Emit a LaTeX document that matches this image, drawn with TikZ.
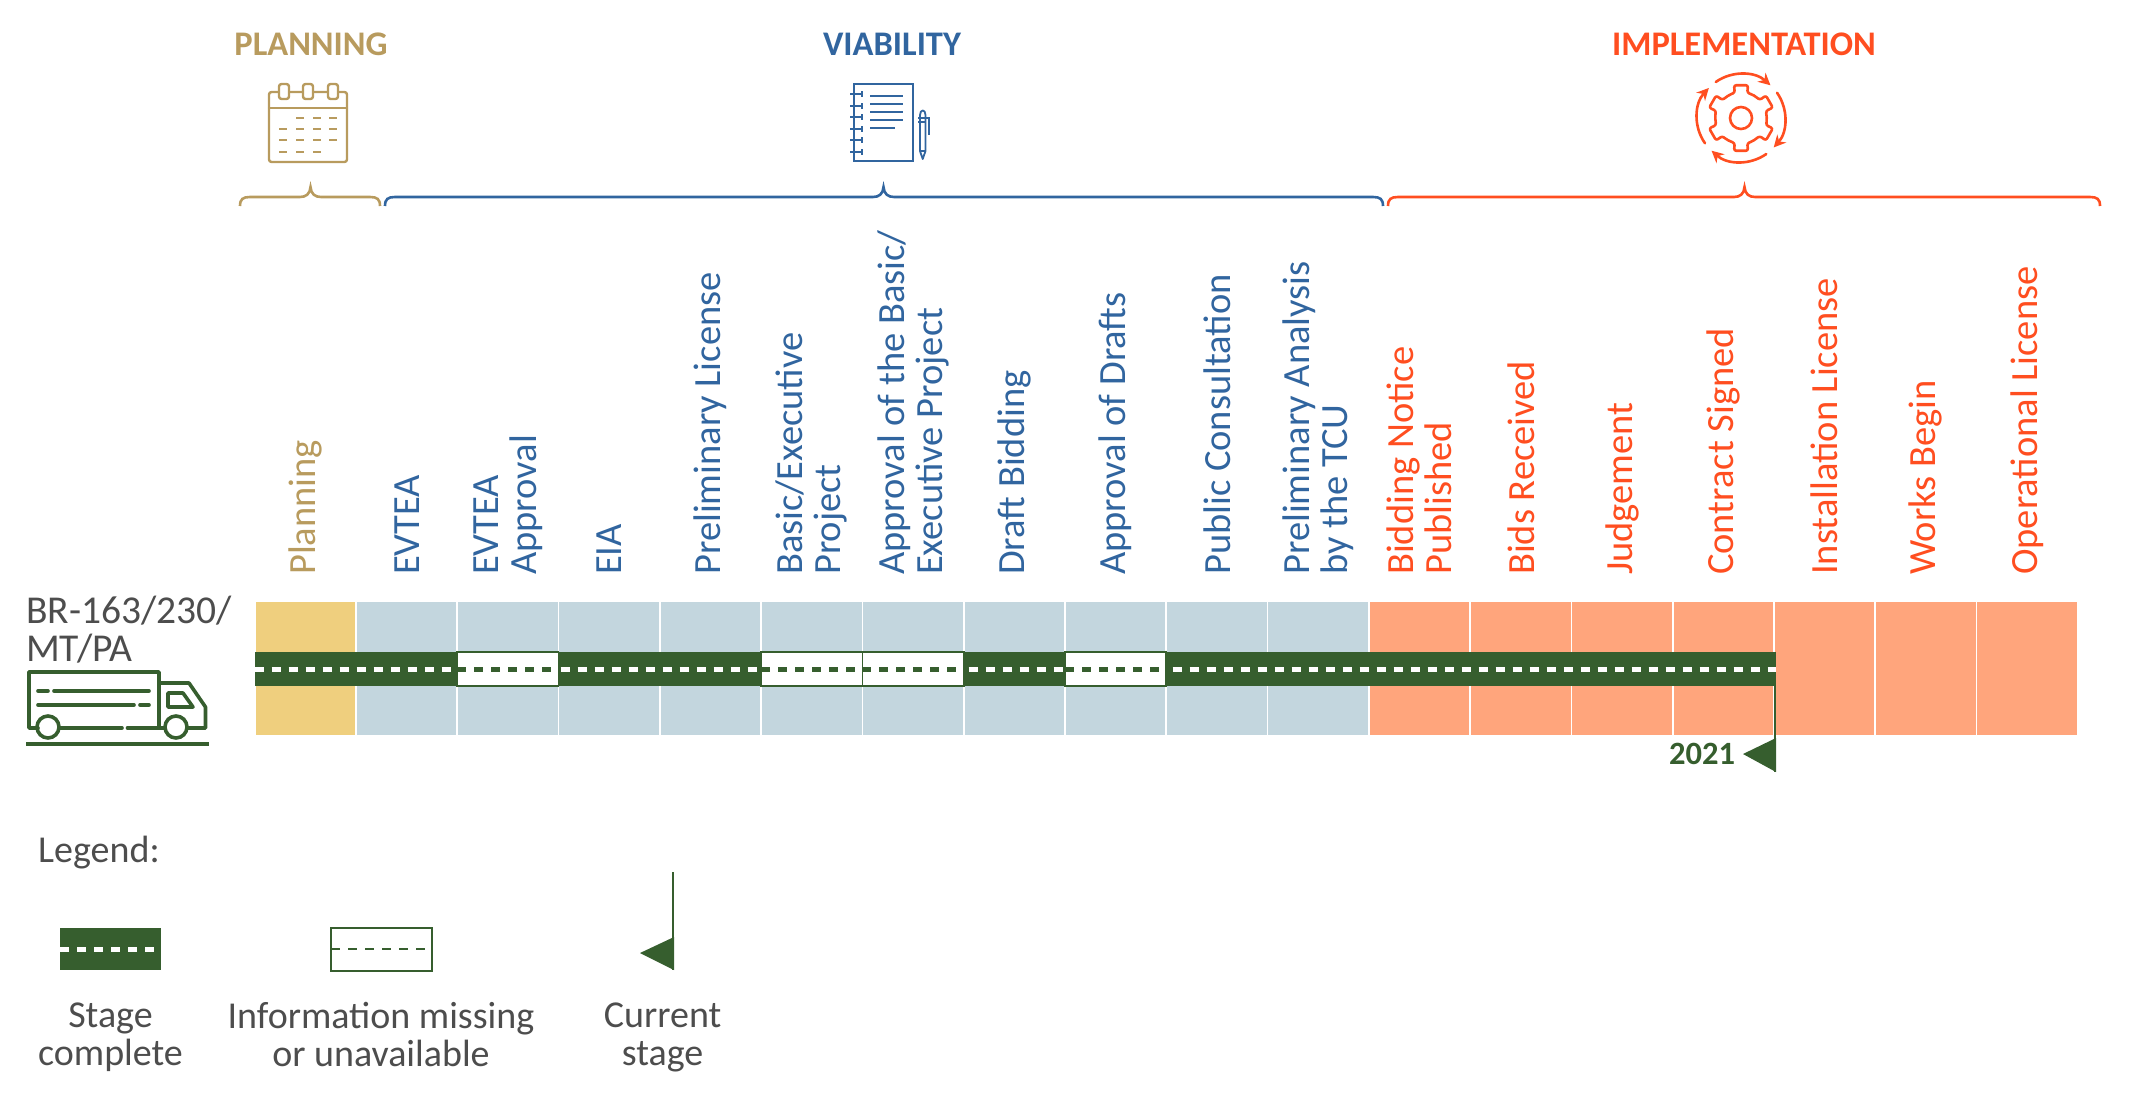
\documentclass[tikz,border=0pt]{standalone}
\usepackage{fontspec}
\setmainfont{Carlito}
\usetikzlibrary{arrows.meta}
\definecolor{tan}{HTML}{B89B5E}
\definecolor{blu}{HTML}{31659F}
\definecolor{org}{HTML}{FF4E20}
\definecolor{gry}{HTML}{4D4D4D}
\definecolor{grn}{HTML}{365E2E}
\definecolor{cellA}{HTML}{EFCF7E}
\definecolor{cellB}{HTML}{C3D6DE}
\definecolor{cellC}{HTML}{FFA57C}
\newcommand{\cx}[1]{\fpeval{305.4+101.28*(#1)}}
\tikzset{
  cellbox/.style={rectangle,inner sep=0pt,minimum width=99.6pt,minimum height=133pt,fill=#1},
  stagelabel/.style={rotate=90,anchor=west,inner sep=0pt,align=left,font=\fontsize{38.5}{38}\selectfont,text=#1},
  headlabel/.style={inner sep=0pt,font=\fontsize{34.5}{38}\selectfont\bfseries,text=#1},
  greytext/.style={inner sep=0pt,align=center,text=gry,font=\fontsize{38}{38}\selectfont},
  roadbar/.style={fill=grn,draw=none},
  roadmark/.style={draw=white,line width=5pt,dash pattern=on 9pt off 8pt},
  missbox/.style={fill=white,draw=grn,line width=1.8pt},
  missmark/.style={draw=grn,line width=5pt,dash pattern=on 9pt off 8pt},
  bracket/.style={line width=2.6pt,draw=#1},
  icon/.style={line width=#1,line cap=round,line join=round}
}
\begin{document}
\begin{tikzpicture}[x=1pt,y=-1pt]
\useasboundingbox (0,0) rectangle (2130,1117);
% headers
\node[headlabel=tan] (hP) at (311,44) {PLANNING};
\node[headlabel=blu] (hV) at (892,44) {VIABILITY};
\node[headlabel=org] (hI) at (1744,44) {IMPLEMENTATION};
% brackets
\draw[bracket=tan] (240,206) .. controls (240,199) and (243,197) .. (250,197) -- (300,197) .. controls (306,197) and (310,194) .. (310.5,187) .. controls (311,194) and (315,197) .. (321,197) -- (370,197) .. controls (377,197) and (380,199) .. (380,206);
\draw[bracket=blu] (385,206) .. controls (385,199) and (388,197) .. (395,197) -- (873,197) .. controls (879,197) and (883,194) .. (883.5,187) .. controls (884,194) and (888,197) .. (894,197) -- (1373,197) .. controls (1380,197) and (1383,199) .. (1383,206);
\draw[bracket=org] (1388,206) .. controls (1388,199) and (1391,197) .. (1398,197) -- (1734,197) .. controls (1740,197) and (1744,194) .. (1744.5,187) .. controls (1745,194) and (1749,197) .. (1755,197) -- (2090,197) .. controls (2097,197) and (2100,199) .. (2100,206);
% calendar
\begin{scope}[icon=2.4pt,draw=tan]
\draw[rounded corners=2.5pt] (269,92) rectangle (347,162);
\draw (269,108) -- (347,108);
\foreach \rx in {284,308,333}{
  \draw[fill=white,rounded corners=2.5pt] (\rx-5,84) rectangle (\rx+5,99);
}
\foreach \dx/\dy in {300/118,317/118,333/118,283/129,300/129,317/129,333/129,283/140,300/140,317/140,333/140,283/152,300/152,317/152}{
  \draw[line width=2.6pt,line cap=butt] (\dx-4,\dy) -- (\dx+4,\dy);
}
\end{scope}
% notebook
\begin{scope}[icon=2.2pt,draw=blu,line cap=butt,line join=miter]
\draw (854,84) rectangle (913,161);
\foreach \ny in {94,106,117,129,140,152}{
  \draw (850,\ny) -- (862,\ny);
  \draw (862,\ny-3) -- (862,\ny+3);
}
\draw (870,96) -- (903,96);
\draw[line width=2.6pt] (870,104) -- (903,104);
\draw[line width=2.6pt] (870,112) -- (903,112);
\draw[line width=2.6pt] (870,120) -- (903,120);
\draw (870,128) -- (895,128);
\draw[line width=1.8pt,line join=round] (920,151) -- (920,115) .. controls (920,109) and (925.5,109) .. (925.5,115) -- (925.5,151) -- (922.7,159) -- cycle;
\draw[line width=1.6pt] (920,151) -- (925.5,151);
\draw[line width=1.6pt] (918,118) -- (929,118) -- (929,135);
\draw[line width=1.6pt] (918,122) -- (926,122);
\end{scope}
% gear
\begin{scope}[shift={(1741,118)},draw=org,line width=2.6pt,line join=round]
\draw[rounded corners=2.2pt] (64:26pt) \foreach \ga in {90,150,210,270,330,390}{
  -- ({\ga-14}:26pt) -- ({\ga-12}:33.5pt) -- ({\ga+12}:33.5pt) -- ({\ga+14}:26pt) -- ({\ga+26}:26pt)
} -- cycle;
\draw (0,0) circle[radius=11pt];
\draw[line cap=round,-{Stealth[length=12pt,width=12pt]}] (125:44pt) arc[start angle=125,end angle=48,radius=44pt];
\draw[line cap=round,-{Stealth[length=12pt,width=12pt]}] (35:44pt) arc[start angle=35,end angle=-42,radius=44pt];
\draw[line cap=round,-{Stealth[length=12pt,width=12pt]}] (-55:44pt) arc[start angle=-55,end angle=-132,radius=44pt];
\draw[line cap=round,-{Stealth[length=12pt,width=12pt]}] (215:44pt) arc[start angle=215,end angle=137,radius=44pt];
\end{scope}
% cells
\foreach \i in {0}{\node[cellbox=cellA] (cell\i) at (\cx{\i},668.5) {};}
\foreach \i in {1,...,10}{\node[cellbox=cellB] (cell\i) at (\cx{\i},668.5) {};}
\foreach \i in {11,...,17}{\node[cellbox=cellC] (cell\i) at (\cx{\i},668.5) {};}
% labels
\foreach \i/\t in {0/Planning}{\node[stagelabel=tan] (lab\i) at (\cx{\i},575) {\t};}
\foreach \i/\t in {1/EVTEA,2/{EVTEA\\Approval},3/EIA,4/Preliminary License,5/{Basic/Executive\\Project},6/{Approval of the Basic/\\Executive Project},7/Draft Bidding,8/Approval of Drafts,9/Public Consultation,10/{Preliminary Analysis\\by the TCU}}{\node[stagelabel=blu] (lab\i) at (\cx{\i},575) {\t};}
\foreach \i/\t in {11/{Bidding Notice\\Published},12/Bids Received,13/Judgement,14/Contract Signed,15/Installation License,16/Works Begin,17/Operational License}{\node[stagelabel=org] (lab\i) at (\cx{\i},575) {\t};}
% road
\coordinate (roadS) at (254.5,669);
\coordinate (roadE) at (1776,669);
\fill[roadbar] (254.5,652) rectangle (1776,686);
\draw[roadmark] (roadS) -- (roadE);
\foreach \i in {2,5,6,8}{
  \draw[missbox] (\cx{\i}-50.6,652) rectangle (\cx{\i}+50.6,686);
  \draw[missmark] (\cx{\i}-50.6,669) -- (\cx{\i}+50.6,669);
}
% current flag
\coordinate (flagTop) at (1775,686);
\coordinate (flagBot) at (1775,772);
\draw[grn,line width=2pt] (flagTop) -- (flagBot);
\fill[grn] (1776,738) -- (1743,754) -- (1776,772) -- cycle;
\node[inner sep=0pt,text=grn,font=\fontsize{32.5}{36}\selectfont\bfseries] (yr) at (1702,754) {2021};
% route label and truck
\node[anchor=west,inner sep=0pt,align=left,text=gry,font=\fontsize{39.5}{38}\selectfont] (route) at (26,630) {BR-163/230/\\MT/PA};
\begin{scope}[icon=3.6pt,draw=grn]
\draw (38,728) -- (29,728) -- (29,672) -- (159,672) -- (159,728);
\draw (159,683) -- (189,683) -- (205.5,707) -- (205.5,728) -- (187,728);
\draw (59,728) -- (122,728);
\draw (127.5,728) -- (165,728);
\draw (48,727) circle[radius=11];
\draw (176,727) circle[radius=11];
\draw (38,691) -- (48,691);
\draw (54,691) -- (149,691);
\draw (38,705) -- (134,705);
\draw (140,705) -- (149,705);
\draw (168,693) -- (183,693) -- (193,707) -- (168,707) -- cycle;
\draw[line cap=butt,line width=4pt] (26,744) -- (209,744);
\end{scope}
% legend
\node[greytext,anchor=west] (leg) at (38,853) {Legend:};
\fill[roadbar] (60,928) rectangle (161,970);
\draw[roadmark] (60,949) -- (161,949);
\draw[missbox] (331,928) rectangle (432,971);
\draw[grn,line width=1.4pt,dash pattern=on 9pt off 8pt] (331,949) -- (432,949);
\coordinate (lfTop) at (673,872);
\coordinate (lfBot) at (673,970);
\draw[grn,line width=2pt] (lfTop) -- (lfBot);
\fill[grn] (674,937) -- (640,953) -- (674,970) -- cycle;
\node[greytext] (l1) at (110.5,1037) {Stage\\complete};
\node[greytext] (l2) at (381,1034.5) {Information missing\\or unavailable};
\node[greytext] (l3) at (662.6,1037) {Current\\stage};
\end{tikzpicture}
\end{document}
